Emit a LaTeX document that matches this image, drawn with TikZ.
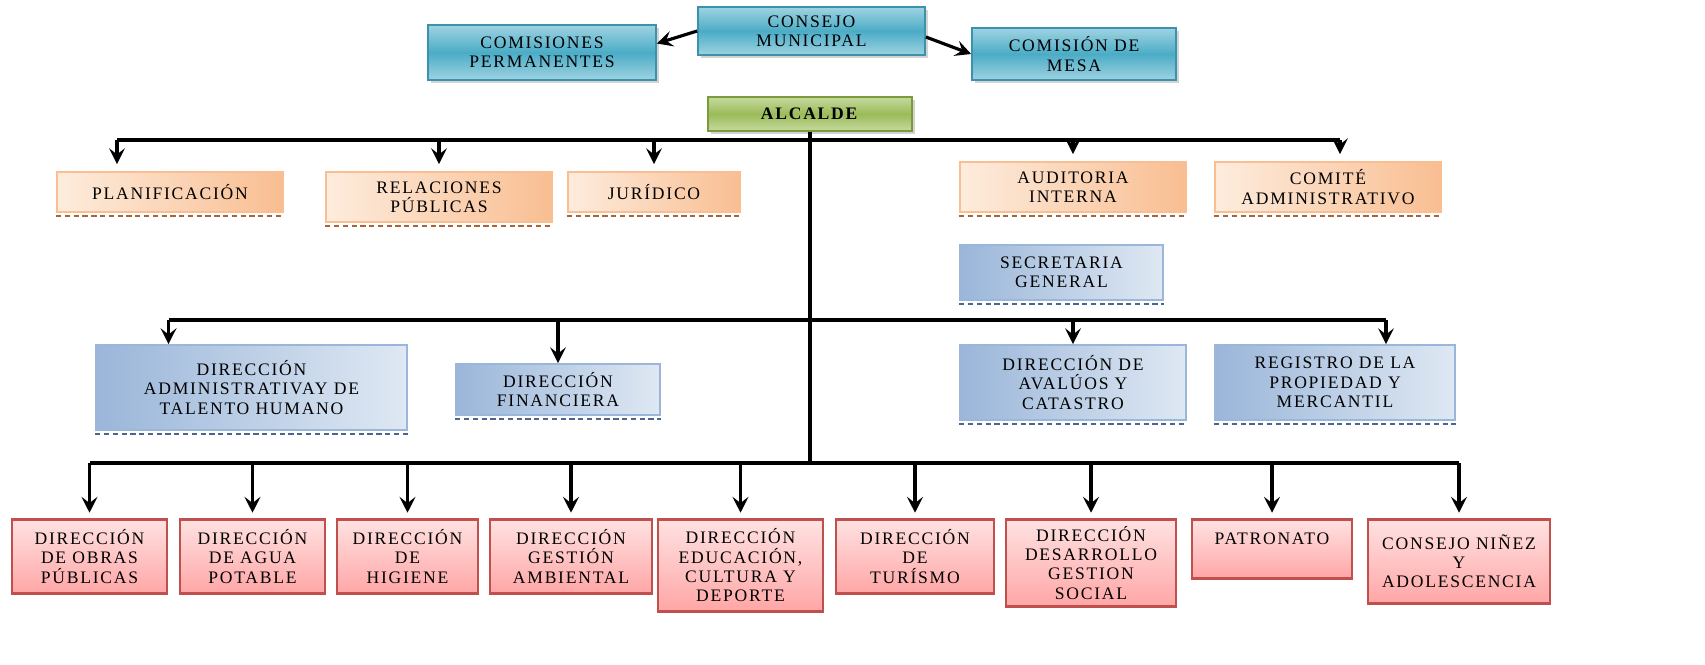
\documentclass[tikz,border=0pt]{standalone}
\usepackage{fontspec}
\setmainfont{Liberation Serif}[LetterSpace=10]
\usetikzlibrary{shadows,arrows.meta}

\definecolor{cyanmid}{HTML}{4BACC6}
\definecolor{cyanlt}{HTML}{9FD3E2}
\definecolor{cyandk}{HTML}{3A93AB}
\definecolor{greenmid}{HTML}{9BBB59}
\definecolor{greenlt}{HTML}{C6DA9E}
\definecolor{greendk}{HTML}{7A9A3C}
\definecolor{orglt}{HTML}{FDECDD}
\definecolor{orgmid}{HTML}{F9BE92}
\definecolor{orgdk}{HTML}{A8643A}
\definecolor{bluelt}{HTML}{DFE8F3}
\definecolor{bluemid}{HTML}{9AB6D9}
\definecolor{bluedk}{HTML}{4A6591}
\definecolor{redlt}{HTML}{FFE2E2}
\definecolor{redmid}{HTML}{FFA6A6}
\definecolor{reddk}{HTML}{C0504D}

\tikzstyle{arrow} = [draw, line width=1.8pt, -{Stealth[length=9pt, width=9pt, inset=3.5pt]}]
\tikzstyle{bus} = [draw, line width=1.8pt]
\tikzstyle{box} = [align=center, inner sep=2pt, font=\fontsize{10}{11}\selectfont]
\tikzstyle{cyanbox} = [box, draw=cyandk, line width=1pt, top color=cyanlt, bottom color=cyanlt, middle color=cyanmid,
  drop shadow={shadow xshift=1.5pt, shadow yshift=-1.5pt, opacity=0.35}]
\tikzstyle{greenbox} = [box, draw=greendk, line width=1pt, top color=greenlt, bottom color=greenlt, middle color=greenmid,
  drop shadow={shadow xshift=1.5pt, shadow yshift=-1.5pt, opacity=0.35}]
\tikzstyle{orgbox} = [box, draw=orgmid, line width=1pt, left color=orglt, right color=orgmid]
\tikzstyle{bluebox} = [box, draw=bluemid, line width=1pt, left color=bluemid, right color=bluelt]
\tikzstyle{redbox} = [box, anchor=north, draw=reddk, line width=1.5pt, top color=redlt, bottom color=redmid]
\tikzstyle{dashorg} = [draw=orgdk, line width=1.2pt, dash pattern=on 3pt off 2pt]
\tikzstyle{dashblue} = [draw=bluedk, line width=1.2pt, dash pattern=on 3pt off 2pt]

\begin{document}
\begin{tikzpicture}[x=0.02cm, y=-0.02cm]
\useasboundingbox (0,0) rectangle (1705,664);

% consejo y comisiones
\node[cyanbox, minimum width=4.54cm, minimum height=0.96cm] (consejo) at (811.5,31) {CONSEJO\\MUNICIPAL};
\node[cyanbox, minimum width=4.56cm, minimum height=1.1cm] (comper) at (542,52.5) {COMISIONES\\PERMANENTES};
\node[cyanbox, minimum width=4.08cm, minimum height=1.04cm] (commesa) at (1074,54) {COMISIÓN DE\\MESA};
\node[greenbox, minimum width=4.08cm, minimum height=0.68cm] (alcalde) at (810,114) {\textbf{ALCALDE}};

\draw [arrow] (consejo.west) -- ([yshift=0.18cm]comper.east);
\draw [arrow] ([yshift=-0.12cm]consejo.east) -- (commesa.west);

% asesoria
\node[orgbox, minimum width=4.52cm, minimum height=0.8cm] (plan) at (170,192) {PLANIFICACIÓN};
\node[orgbox, minimum width=4.52cm, minimum height=1.0cm] (relpub) at (439,197) {RELACIONES\\PÚBLICAS};
\node[orgbox, minimum width=3.44cm, minimum height=0.8cm] (jur) at (654,192) {JURÍDICO};
\node[orgbox, minimum width=4.52cm, minimum height=1.0cm] (audit) at (1073,187) {AUDITORIA\\INTERNA};
\node[orgbox, minimum width=4.52cm, minimum height=1.0cm] (comite) at (1328,187) {COMITÉ\\ADMINISTRATIVO};

% apoyo
\node[bluebox, minimum width=4.06cm, minimum height=1.1cm] (secgen) at (1061.5,272.5) {SECRETARIA\\GENERAL};
\node[bluebox, minimum width=6.22cm, minimum height=1.7cm] (admin) at (251.5,387.5) {DIRECCIÓN\\ADMINISTRATIVAY DE\\TALENTO HUMANO};
\node[bluebox, minimum width=4.08cm, minimum height=1.02cm] (finan) at (558,389.5) {DIRECCIÓN\\FINANCIERA};
\node[bluebox, minimum width=4.52cm, minimum height=1.5cm] (aval) at (1073,382.5) {DIRECCIÓN DE\\AVALÚOS Y\\CATASTRO};
\node[bluebox, minimum width=4.8cm, minimum height=1.5cm] (regis) at (1335,382.5) {REGISTRO DE LA\\PROPIEDAD Y\\MERCANTIL};

% direcciones operativas
\node[redbox, minimum width=3.1cm, minimum height=1.48cm] (obras) at (89.5,518) {DIRECCIÓN\\DE OBRAS\\PÚBLICAS};
\node[redbox, minimum width=2.9cm, minimum height=1.48cm] (agua) at (252.5,518) {DIRECCIÓN\\DE AGUA\\POTABLE};
\node[redbox, minimum width=2.82cm, minimum height=1.48cm] (higiene) at (407.5,518) {DIRECCIÓN\\DE\\HIGIENE};
\node[redbox, minimum width=3.24cm, minimum height=1.48cm] (ambiental) at (571,518) {DIRECCIÓN\\GESTIÓN\\AMBIENTAL};
\node[redbox, minimum width=3.3cm, minimum height=1.84cm] (educ) at (740.5,518) {DIRECCIÓN\\EDUCACIÓN,\\CULTURA Y\\DEPORTE};
\node[redbox, minimum width=3.16cm, minimum height=1.48cm] (turismo) at (915,518) {DIRECCIÓN\\DE\\TURÍSMO};
\node[redbox, minimum width=3.4cm, minimum height=1.74cm] (desarr) at (1091,518) {DIRECCIÓN\\DESARROLLO\\GESTION\\SOCIAL};
\node[redbox, minimum width=3.2cm, minimum height=1.18cm] (patron) at (1272,518) {PATRONATO\\\mbox{}};
\node[redbox, minimum width=3.64cm, minimum height=1.68cm] (ninez) at (1459,518) {CONSEJO NIÑEZ\\Y\\ADOLESCENCIA};

% lineas punteadas
\foreach \n in {plan,relpub,jur,audit,comite}
  \draw [dashorg] ([yshift=-2pt]\n.south west) -- ([yshift=-2pt]\n.south east);
\foreach \n in {secgen,admin,finan,aval,regis}
  \draw [dashblue] ([yshift=-2pt]\n.south west) -- ([yshift=-2pt]\n.south east);

% conectores
\coordinate (b1) at (810,140);
\coordinate (b2) at (810,320);
\coordinate (b3) at (810,463);
\coordinate (planin) at ([xshift=-1.06cm]plan.north);
\coordinate (comitein) at ([xshift=0.24cm]comite.north);
\coordinate (adminin) at ([xshift=-1.66cm]admin.north);
\coordinate (regisin) at ([xshift=1.02cm]regis.north);
\draw [bus] (alcalde.south) -- (b3);
\draw [bus] (planin |- b1) -- (comitein |- b1);
\foreach \n in {planin,relpub.north,jur.north,audit.north,comitein}
  \draw [arrow] (\n |- b1) -- ([yshift=4pt]\n);
\draw [bus] (adminin |- b2) -- (regisin |- b2);
\foreach \n in {adminin,finan.north,aval.north,regisin}
  \draw [arrow] (\n |- b2) -- (\n);
\draw [bus] (obras.north |- b3) -- (ninez.north |- b3);
\foreach \n in {obras,agua,higiene,ambiental,educ,turismo,desarr,patron,ninez}
  \draw [arrow] (\n.north |- b3) -- ([yshift=3pt]\n.north);
\end{tikzpicture}
\end{document}
